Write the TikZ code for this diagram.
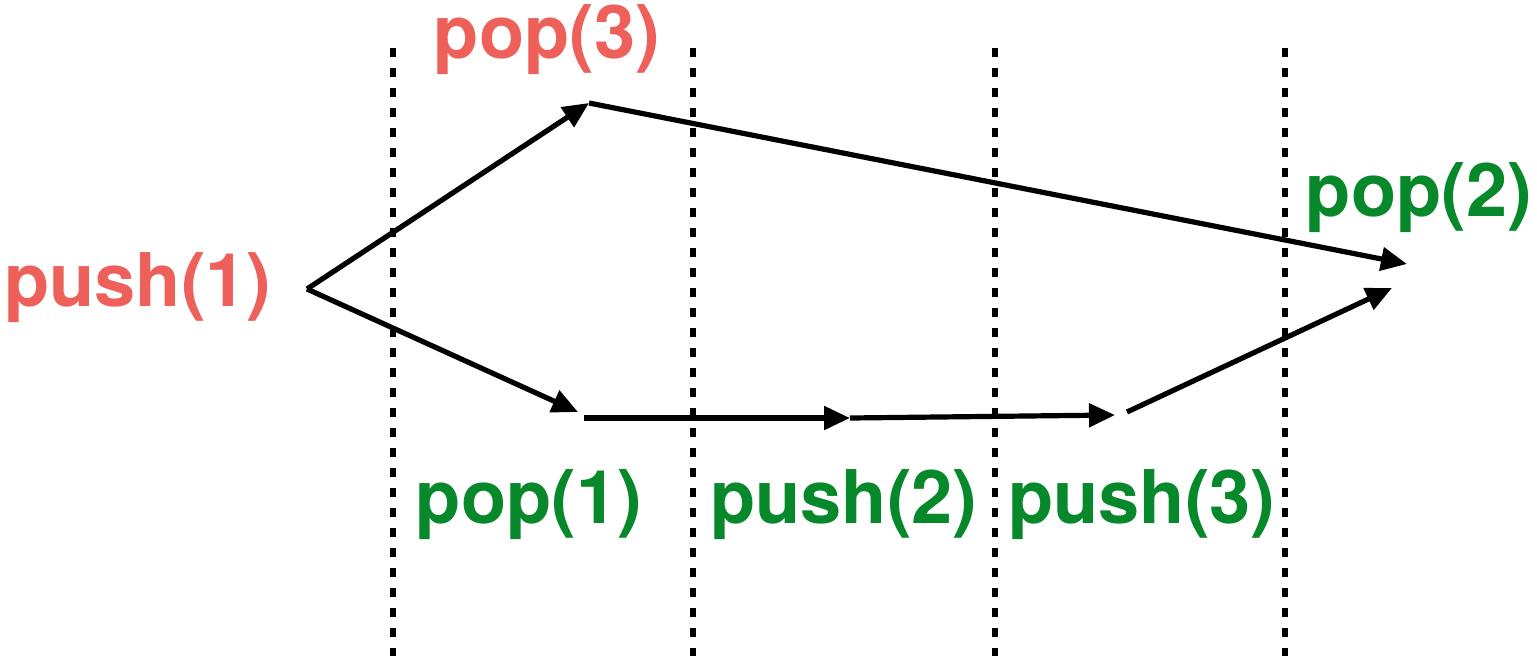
\documentclass[tikz,border=0pt]{standalone}
\usepackage{fontspec}
\setmainfont{TeX Gyre Heros}
\usetikzlibrary{arrows.meta}
\definecolor{opred}{HTML}{EE605A}
\definecolor{opgreen}{HTML}{07882B}
\begin{document}
\begin{tikzpicture}[x=0.5pt,y=-0.5pt,
  lbl/.style={font=\fontsize{37}{40}\selectfont\bfseries, inner sep=0pt, anchor=base},
  redlbl/.style={lbl, text=opred},
  greenlbl/.style={lbl, text=opgreen},
  sep/.style={line width=2.8pt, dash pattern=on 4.5pt off 5.5pt},
  edge/.style={line width=2.6pt, -{Triangle[length=13pt,width=11.5pt]}}]
\useasboundingbox (0,0) rectangle (1537,660);

% time-slot separators
\foreach \x in {393,693,995,1285}
  \draw[sep] (\x,48) -- (\x,656);

% operation labels
\node[redlbl]   (push1) at (138,306) {push(1)};
\node[redlbl]   (pop3)  at (547,58)  {pop(3)};
\node[greenlbl] (pop2)  at (1419,216) {pop(2)};
\node[greenlbl] (pop1)  at (529,523) {pop(1)};
\node[greenlbl] (push2) at (844,523) {push(2)};
\node[greenlbl] (push3) at (1142,523) {push(3)};

% branch points of the execution graph
\coordinate (v0) at (307,289);
\coordinate (a1) at (589,103);
\coordinate (b1) at (578,412);
\coordinate (b2s) at (584,418);
\coordinate (b2) at (850,418);
\coordinate (b3) at (1115,415);
\coordinate (b4s) at (1127,412);
\coordinate (e1) at (1407,264);
\coordinate (e2) at (1392,288);

\draw[edge] (v0) -- (a1);
\draw[edge] (a1) -- (e1);
\draw[edge] (v0) -- (b1);
\draw[edge] (b2s) -- (b2);
\draw[edge] (b2) -- (b3);
\draw[edge] (b4s) -- (e2);
\end{tikzpicture}
\end{document}
